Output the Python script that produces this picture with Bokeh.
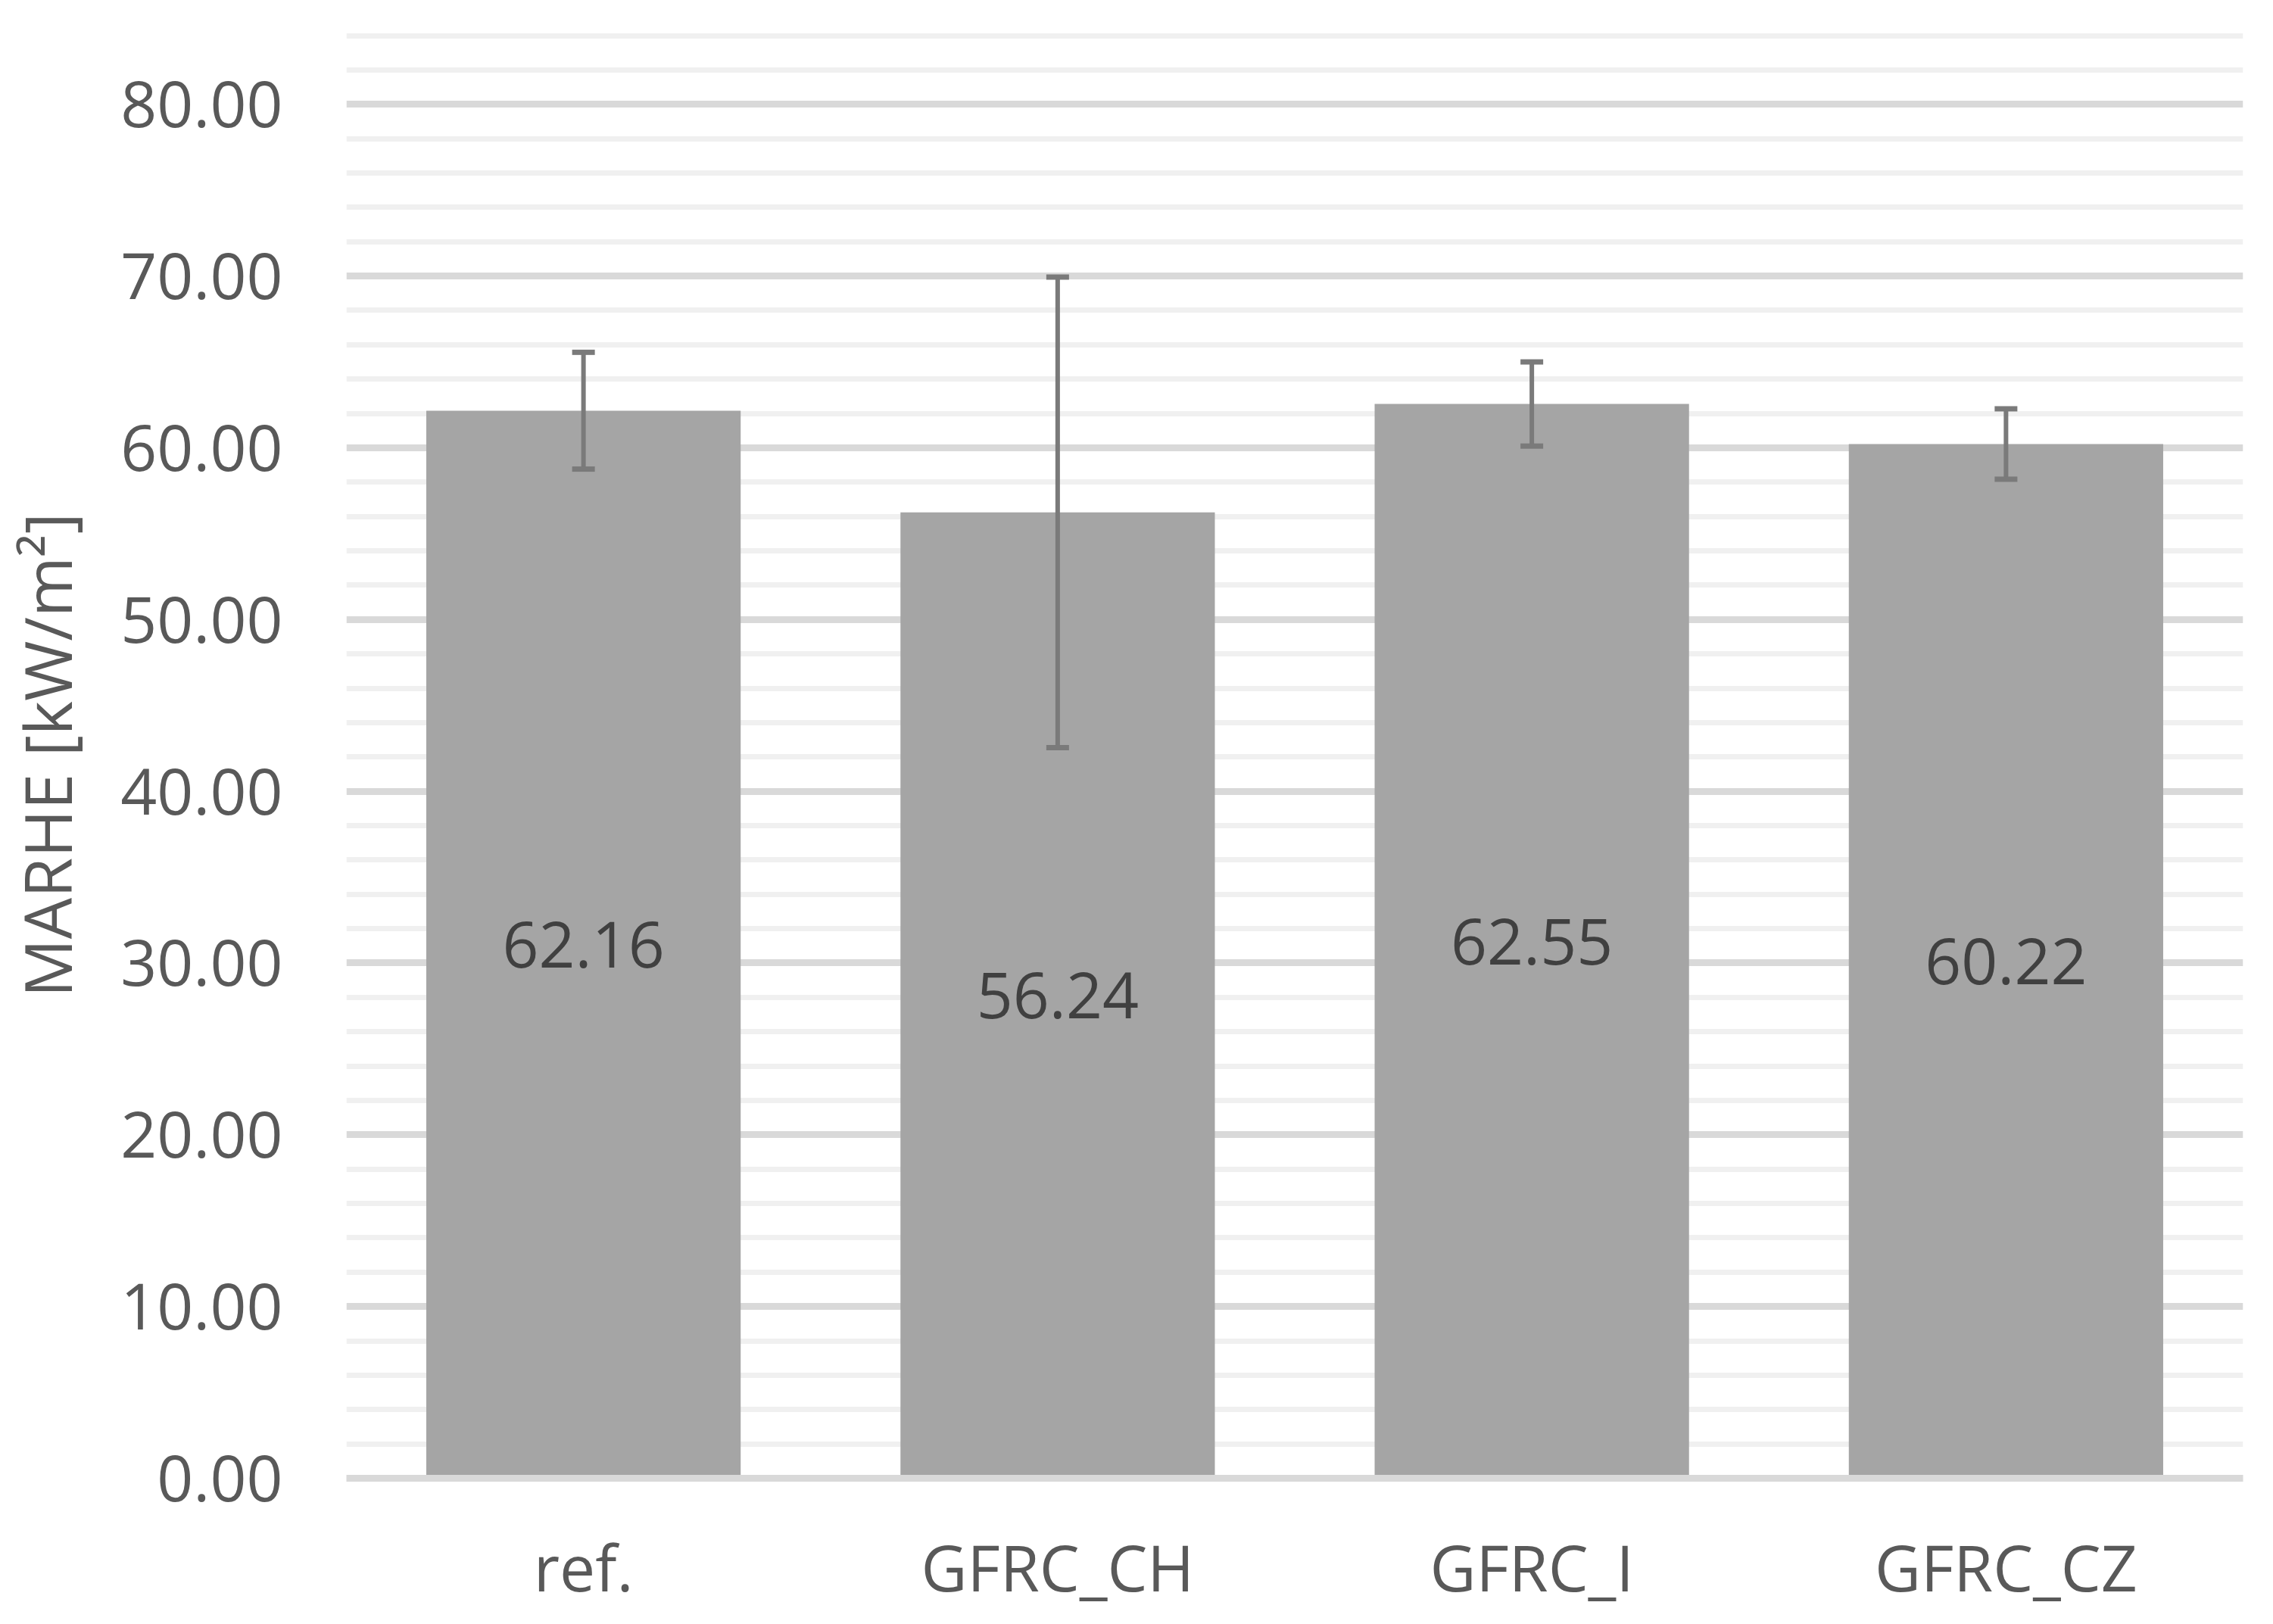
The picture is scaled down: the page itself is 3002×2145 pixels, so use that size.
from bokeh.plotting import figure
from bokeh.models import ColumnDataSource, FixedTicker, NumeralTickFormatter, Whisker, TeeHead, LabelSet
from bokeh.core.properties import value
from bokeh.embed import file_html
from bokeh.resources import INLINE

categories = ["ref.", "GFRC_CH", "GFRC_I", "GFRC_CZ"]
values = [62.16, 56.24, 62.55, 60.22]
errors = [3.4, 13.7, 2.45, 2.05]
major_ticks = [0, 10, 20, 30, 40, 50, 60, 70, 80]
minor_ticks = [2, 4, 6, 8, 12, 14, 16, 18, 22, 24, 26, 28, 32, 34, 36, 38, 42, 44, 46, 48,
               52, 54, 56, 58, 62, 64, 66, 68, 72, 74, 76, 78, 82, 84]

FONT = "Open Sans"

src = ColumnDataSource(dict(
    cat=categories,
    val=values,
    upper=[v + e for v, e in zip(values, errors)],
    lower=[v - e for v, e in zip(values, errors)],
    mid=[v / 2 for v in values],
    lab=["%.2f" % v for v in values],
))

p = figure(x_range=categories, y_range=(0, 84.2), width=2986, height=2129,
           output_backend="svg", toolbar_location=None,
           min_border_left=457, min_border_right=24, min_border_top=42, min_border_bottom=155)
p.outline_line_color = None
p.background_fill_color = "white"
p.x_range.range_padding = 0

p.vbar(x="cat", top="val", width=0.663, source=src, fill_color="#a5a5a5", line_color=None)

w = Whisker(base="cat", upper="upper", lower="lower", source=src,
            line_color="#7a7a7a", line_width=6, level="annotation",
            upper_head=TeeHead(size=30, line_color="#7a7a7a", line_width=7),
            lower_head=TeeHead(size=30, line_color="#7a7a7a", line_width=7))
p.add_layout(w)

labels = LabelSet(x="cat", y="mid", text="lab", source=src, text_align="center",
                  text_baseline="middle", text_font=value(FONT), text_font_size="84px",
                  text_color="#404040")
p.add_layout(labels)

tick = FixedTicker(ticks=major_ticks, minor_ticks=minor_ticks)
p.yaxis.ticker = tick
p.ygrid.ticker = tick
p.yaxis.formatter = NumeralTickFormatter(format="0.00")
p.ygrid.grid_line_color = "#d9d9d9"
p.ygrid.grid_line_width = 9
p.ygrid.minor_grid_line_color = "#f0f0f0"
p.ygrid.minor_grid_line_width = 7
p.xgrid.grid_line_color = None

for ax in (p.xaxis, p.yaxis):
    ax.axis_line_color = None
    ax.major_tick_line_color = None
    ax.minor_tick_line_color = None
    ax.major_label_text_font = FONT
    ax.major_label_text_color = "#595959"

p.xaxis.axis_line_color = "#d9d9d9"
p.xaxis.axis_line_width = 9
p.yaxis.major_label_text_font_size = "84px"
p.xaxis.major_label_text_font_size = "84px"
p.yaxis.major_label_standoff = 78
p.xaxis.major_label_standoff = 53
p.yaxis.axis_label = "MARHE [kW/m²]"
p.yaxis.axis_label_text_font = FONT
p.yaxis.axis_label_text_font_size = "86px"
p.yaxis.axis_label_text_font_style = "normal"
p.yaxis.axis_label_text_color = "#595959"
p.yaxis.axis_label_standoff = 36

open("out.html", "w").write(file_html(p, INLINE))
